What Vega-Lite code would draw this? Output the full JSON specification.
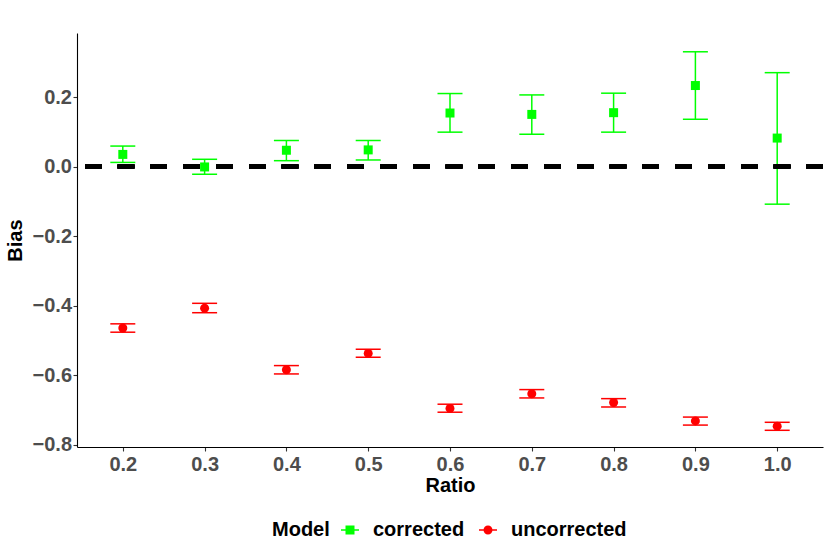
{
  "$schema": "https://vega.github.io/schema/vega-lite/v6.json",
  "width": 746,
  "height": 414,
  "autosize": {"type": "none"},
  "padding": {"left": 77, "top": 33, "right": 7, "bottom": 107},
  "background": "white",
  "config": {
    "view": {"stroke": null},
    "font": "Liberation Sans",
    "axis": {
      "grid": false,
      "domainColor": "black",
      "domainWidth": 1.1,
      "tickColor": "#333333",
      "tickSize": 4,
      "tickWidth": 1.1,
      "labelFont": "Liberation Sans",
      "labelFontSize": 20,
      "labelFontWeight": "bold",
      "labelColor": "#4D4D4D",
      "titleFont": "Liberation Sans",
      "titleFontSize": 20,
      "titleFontWeight": "bold",
      "titleColor": "black"
    },
    "legend": {
      "labelFont": "Liberation Sans",
      "labelFontSize": 20,
      "labelFontWeight": "bold",
      "labelColor": "black",
      "titleFont": "Liberation Sans",
      "titleFontSize": 20,
      "titleFontWeight": "bold",
      "titleColor": "black"
    }
  },
  "data": {
    "values": [
      {"Ratio": "0.2", "Model": "corrected", "Bias": 0.035, "lower": 0.012, "upper": 0.059},
      {"Ratio": "0.3", "Model": "corrected", "Bias": -0.001, "lower": -0.022, "upper": 0.021},
      {"Ratio": "0.4", "Model": "corrected", "Bias": 0.047, "lower": 0.017, "upper": 0.075},
      {"Ratio": "0.5", "Model": "corrected", "Bias": 0.048, "lower": 0.019, "upper": 0.075},
      {"Ratio": "0.6", "Model": "corrected", "Bias": 0.154, "lower": 0.099, "upper": 0.210},
      {"Ratio": "0.7", "Model": "corrected", "Bias": 0.150, "lower": 0.093, "upper": 0.206},
      {"Ratio": "0.8", "Model": "corrected", "Bias": 0.155, "lower": 0.099, "upper": 0.211},
      {"Ratio": "0.9", "Model": "corrected", "Bias": 0.233, "lower": 0.136, "upper": 0.330},
      {"Ratio": "1.0", "Model": "corrected", "Bias": 0.082, "lower": -0.108, "upper": 0.270},
      {"Ratio": "0.2", "Model": "uncorrected", "Bias": -0.464, "lower": -0.476, "upper": -0.452},
      {"Ratio": "0.3", "Model": "uncorrected", "Bias": -0.407, "lower": -0.420, "upper": -0.393},
      {"Ratio": "0.4", "Model": "uncorrected", "Bias": -0.584, "lower": -0.596, "upper": -0.572},
      {"Ratio": "0.5", "Model": "uncorrected", "Bias": -0.537, "lower": -0.548, "upper": -0.525},
      {"Ratio": "0.6", "Model": "uncorrected", "Bias": -0.695, "lower": -0.706, "upper": -0.683},
      {"Ratio": "0.7", "Model": "uncorrected", "Bias": -0.653, "lower": -0.665, "upper": -0.641},
      {"Ratio": "0.8", "Model": "uncorrected", "Bias": -0.678, "lower": -0.691, "upper": -0.667},
      {"Ratio": "0.9", "Model": "uncorrected", "Bias": -0.731, "lower": -0.743, "upper": -0.720},
      {"Ratio": "1.0", "Model": "uncorrected", "Bias": -0.746, "lower": -0.758, "upper": -0.735}
    ]
  },
  "encoding": {
    "x": {
      "field": "Ratio",
      "type": "ordinal",
      "sort": ["0.2", "0.3", "0.4", "0.5", "0.6", "0.7", "0.8", "0.9", "1.0"],
      "scale": {"type": "point", "padding": 0.56},
      "axis": {"title": "Ratio", "labelAngle": 0, "labelPadding": 3, "titlePadding": 1}
    },
    "color": {
      "field": "Model",
      "type": "nominal",
      "scale": {"domain": ["corrected", "uncorrected"], "range": ["#00FF00", "#FF0000"]},
      "legend": {
        "title": "Model",
        "orient": "none",
        "legendX": 195,
        "legendY": 487,
        "direction": "horizontal",
        "titleOrient": "left",
        "titlePadding": 10,
        "padding": 0,
        "symbolSize": 324,
        "labelOffset": 13,
        "columnPadding": 13,
        "encode": {
          "symbols": {
            "update": {
              "shape": {"signal": "datum.value === 'corrected' ? 'M-1,-0.085H1V0.085H-1Z M-0.5,-0.5H0.5V0.5H-0.5Z' : 'M-1,-0.085H1V0.085H-1Z M-0.5,0A0.5,0.5,0,1,1,0.5,0A0.5,0.5,0,1,1,-0.5,0Z'"},
              "fill": {"signal": "datum.value === 'corrected' ? '#00FF00' : '#FF0000'"},
              "stroke": {"value": "transparent"},
              "strokeWidth": {"value": 0},
              "size": {"value": 324},
              "opacity": {"value": 1}
            }
          }
        }
      }
    }
  },
  "layer": [
    {
      "mark": {"type": "rule", "strokeWidth": 1.5},
      "encoding": {
        "y": {
          "field": "lower",
          "type": "quantitative",
          "scale": {"domain": [-0.806, 0.384], "nice": false, "zero": false},
          "axis": {"title": "Bias", "values": [-0.8, -0.6, -0.4, -0.2, 0, 0.2], "format": ".1f", "labelPadding": 1.5, "titlePadding": 7}
        },
        "y2": {"field": "upper"}
      }
    },
    {
      "mark": {"type": "tick", "size": 25, "thickness": 1.5, "opacity": 1, "orient": "horizontal"},
      "encoding": {"y": {"field": "lower", "type": "quantitative"}}
    },
    {
      "mark": {"type": "tick", "size": 25, "thickness": 1.5, "opacity": 1, "orient": "horizontal"},
      "encoding": {"y": {"field": "upper", "type": "quantitative"}}
    },
    {
      "mark": {"type": "rule", "color": "black", "strokeWidth": 4, "strokeDash": [16.4, 16.4]},
      "encoding": {"y": {"datum": 0}, "x": null, "color": null}
    },
    {
      "transform": [{"filter": "datum.Model === 'corrected'"}],
      "mark": {"type": "point", "shape": "square", "filled": true, "opacity": 1, "size": 81},
      "encoding": {"y": {"field": "Bias", "type": "quantitative"}}
    },
    {
      "transform": [{"filter": "datum.Model === 'uncorrected'"}],
      "mark": {"type": "point", "shape": "circle", "filled": true, "opacity": 1, "size": 81},
      "encoding": {"y": {"field": "Bias", "type": "quantitative"}}
    }
  ]
}
